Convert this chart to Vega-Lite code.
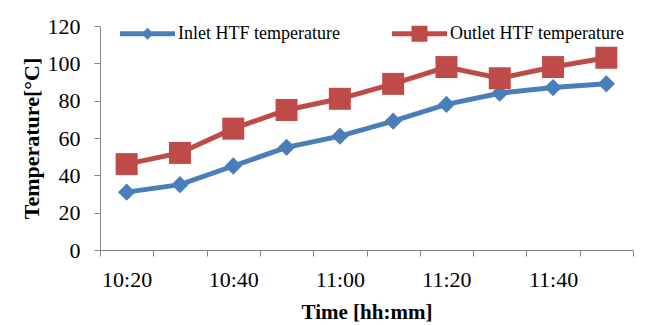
{
  "$schema": "https://vega.github.io/schema/vega-lite/v6.json",
  "autosize": {"type": "none"},
  "width": 533,
  "height": 224,
  "padding": {"left": 100, "top": 26, "right": 35, "bottom": 75},
  "background": "white",
  "config": {
    "view": {"stroke": null},
    "font": "Liberation Serif",
    "axis": {"grid": false, "domainColor": "#868686", "tickColor": "#868686", "labelFont": "Liberation Serif", "titleFont": "Liberation Serif", "labelColor": "#000", "titleColor": "#000"},
    "legend": {"orient": "none", "legendX": 20, "legendY": -20, "title": null, "direction": "horizontal",
            "symbolSize": 3025, "symbolStrokeWidth": 0, "labelFont": "Liberation Serif", "labelFontSize": 18,
            "labelOffset": 3, "columnPadding": 52, "labelLimit": 300}
  },
  "data": {
    "values": [
      {"time": "10:20", "series": "Inlet HTF temperature", "temp": 31},
      {"time": "10:30", "series": "Inlet HTF temperature", "temp": 35},
      {"time": "10:40", "series": "Inlet HTF temperature", "temp": 45},
      {"time": "10:50", "series": "Inlet HTF temperature", "temp": 55},
      {"time": "11:00", "series": "Inlet HTF temperature", "temp": 61},
      {"time": "11:10", "series": "Inlet HTF temperature", "temp": 69},
      {"time": "11:20", "series": "Inlet HTF temperature", "temp": 78},
      {"time": "11:30", "series": "Inlet HTF temperature", "temp": 84},
      {"time": "11:40", "series": "Inlet HTF temperature", "temp": 87},
      {"time": "11:50", "series": "Inlet HTF temperature", "temp": 89},
      {"time": "10:20", "series": "Outlet HTF temperature", "temp": 46},
      {"time": "10:30", "series": "Outlet HTF temperature", "temp": 52},
      {"time": "10:40", "series": "Outlet HTF temperature", "temp": 65},
      {"time": "10:50", "series": "Outlet HTF temperature", "temp": 75},
      {"time": "11:00", "series": "Outlet HTF temperature", "temp": 81},
      {"time": "11:10", "series": "Outlet HTF temperature", "temp": 89},
      {"time": "11:20", "series": "Outlet HTF temperature", "temp": 98},
      {"time": "11:30", "series": "Outlet HTF temperature", "temp": 92},
      {"time": "11:40", "series": "Outlet HTF temperature", "temp": 98},
      {"time": "11:50", "series": "Outlet HTF temperature", "temp": 103}
    ]
  },
  "encoding": {
    "x": {
      "field": "time", "type": "ordinal", "sort": null,
      "scale": {"paddingInner": 0, "paddingOuter": 0},
      "axis": {
        "title": "Time [hh:mm]", "titleFontSize": 21, "titleFontWeight": "bold", "titlePadding": 11,
        "labelAngle": 0, "labelFontSize": 22, "labelPadding": 13, "tickSize": 6, "tickBand": "extent",
        "labelExpr": "indexof(['10:20','10:40','11:00','11:20','11:40'], datum.value) >= 0 ? datum.label : ''"
      }
    },
    "y": {
      "field": "temp", "type": "quantitative",
      "scale": {"domain": [0, 120]},
      "axis": {
        "title": "Temperature[°C]", "titleFontSize": 22, "titleFontWeight": "bold", "titlePadding": 4,
        "values": [0, 20, 40, 60, 80, 100, 120], "labelFontSize": 22, "labelPadding": 14, "tickSize": 6
      }
    },
    "color": {
      "field": "series", "type": "nominal",
      "scale": {"domain": ["Inlet HTF temperature", "Outlet HTF temperature"], "range": ["#4a7ebb", "#be4b48"]}
    }
  },
  "layer": [
    {"mark": {"type": "line", "strokeWidth": 5}},
    {
      "transform": [{"filter": "datum.series == 'Inlet HTF temperature'"}],
      "mark": {"type": "point", "shape": "diamond", "filled": true, "size": 300, "opacity": 1}
    },
    {
      "transform": [{"filter": "datum.series == 'Outlet HTF temperature'"}],
      "mark": {"type": "point", "shape": "square", "filled": true, "size": 484, "opacity": 1}
    },
    {
      "mark": {"type": "point", "filled": true, "opacity": 1, "size": 0},
      "encoding": {
        "shape": {
          "field": "series", "type": "nominal",
          "scale": {
            "domain": ["Inlet HTF temperature", "Outlet HTF temperature"],
            "range": [
              "M-1,-0.09H1V0.09H-1Z M0,-0.22L0.22,0L0,0.22L-0.22,0Z",
              "M-1,-0.09H1V0.09H-1Z M-0.29,-0.29H0.29V0.29H-0.29Z"
            ]
          }
        }
      }
    }
  ]
}
